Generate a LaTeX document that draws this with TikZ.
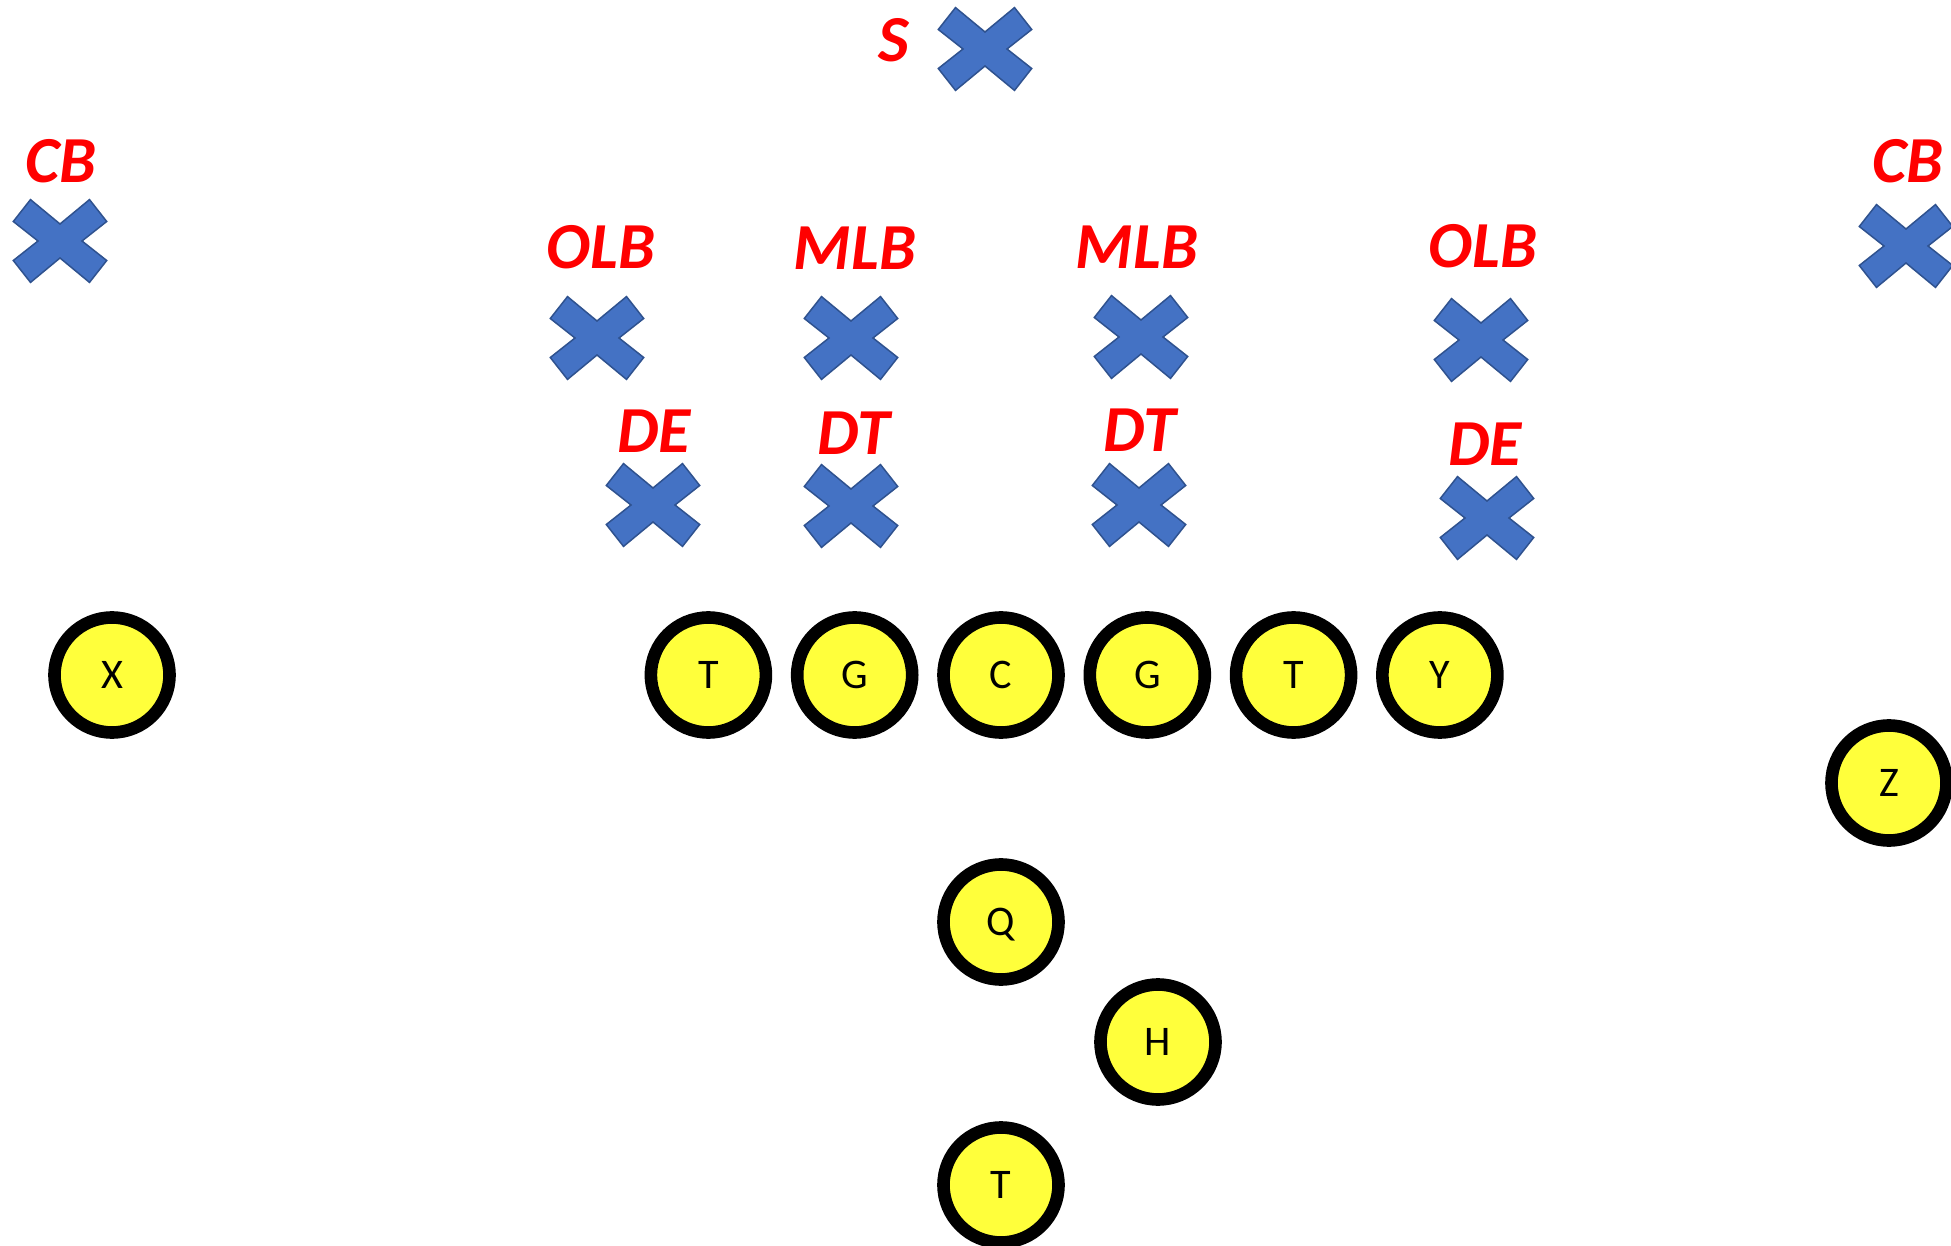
\documentclass[tikz,border=0pt]{standalone}
\usepackage{fontspec}
\setmainfont{Carlito}
\usetikzlibrary{positioning}

\definecolor{crossblue}{HTML}{4472C4}
\definecolor{crossedge}{HTML}{2F528F}
\definecolor{jersey}{HTML}{FFFF3B}

\tikzset{
  player/.style={circle, draw=black, fill=jersey, line width=1.26mm,
    minimum size=11.5mm, inner sep=0pt, text depth=0pt,
    font=\fontsize{12}{14}\selectfont},
  defender/.style={minimum width=10.2mm, minimum height=9.2mm, inner sep=0pt,
    path picture={\filldraw[fill=crossblue, draw=crossedge, line width=0.15mm,
      shift={(path picture bounding box.center)}]
      (-46.7,-19.5) -- (-29.5,-41.4) -- (0,-17) -- (29.5,-41.4) -- (46.7,-19.5) -- (22,0)
      -- (46.7,19.5) -- (29.5,41.4) -- (0,17) -- (-29.5,41.4) -- (-46.7,19.5) -- (-22,0) -- cycle;}},
  poslabel/.style={text=red, inner sep=0pt,
    font=\fontsize{18.7}{20}\selectfont\bfseries\itshape}
}

\begin{document}
\begin{tikzpicture}[x=0.1mm, y=-0.1mm, node distance=1.87mm]
  \useasboundingbox (0,0) rectangle (1951,1246);
  % offense
  \node[player] (c) at (1001,675) {C} ; %
  \node[player, left=of c] (lg) {G} ; %
  \node[player, left=of lg] (lt) {T} ; %
  \node[player, right=of c] (rg) {G} ; %
  \node[player, right=of rg] (rt) {T} ; %
  \node[player, right=of rt] (y) {Y} ; %
  \node[player] (x) at (112,675) {X} ; %
  \node[player] (z) at (1889,783) {Z} ; %
  \node[player] (q) at (1001,922) {Q} ; %
  \node[player] (h) at (1158,1042) {H} ; %
  \node[player] (tb) at (1001,1185) {T} ; %
  % defense
  \node[defender] (s) at (985,49) {} ; %
  \node[defender] (cbl) at (60,241) {} ; %
  \node[defender] (cbr) at (1906,246) {} ; %
  \node[defender] (olbl) at (597,338) {} ; %
  \node[defender] (mlbl) at (851,338) {} ; %
  \node[defender] (mlbr) at (1141,337) {} ; %
  \node[defender] (olbr) at (1481,340) {} ; %
  \node[defender] (del) at (653,505) {} ; %
  \node[defender] (dtl) at (851,506) {} ; %
  \node[defender] (dtr) at (1139,505) {} ; %
  \node[defender] (der) at (1487,518) {} ; %
  % labels
  \node[poslabel] (sl) at (894,40) {S} ; %
  \node[poslabel] (cbll) at (61,161) {CB} ; %
  \node[poslabel] (cbrl) at (1908,161) {CB} ; %
  \node[poslabel] (olbll) at (601,247) {OLB} ; %
  \node[poslabel] (mlbll) at (855,248) {MLB} ; %
  \node[poslabel] (mlbrl) at (1137,247) {MLB} ; %
  \node[poslabel] (olbrl) at (1483,246) {OLB} ; %
  \node[poslabel] (dell) at (654,431) {DE} ; %
  \node[poslabel] (dtll) at (854,433) {DT} ; %
  \node[poslabel] (dtrl) at (1140,430) {DT} ; %
  \node[poslabel] (derl) at (1485,444) {DE} ; %
\end{tikzpicture}
\end{document}
